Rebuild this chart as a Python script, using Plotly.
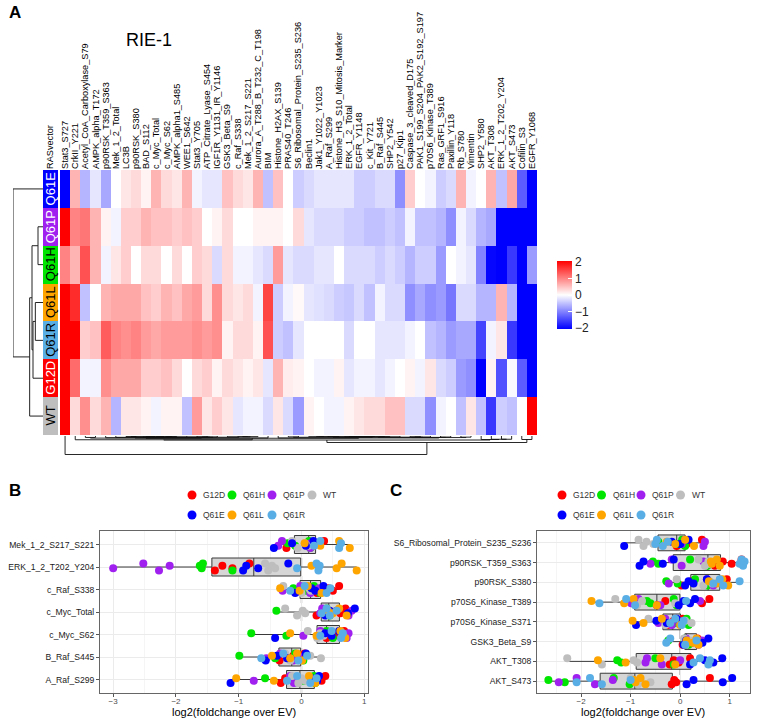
import numpy as np
import plotly.graph_objects as go

W, H = 758, 719
FONT = "Liberation Sans, Arial, sans-serif"
NARROW = "Liberation Sans Narrow, Arial Narrow, Liberation Sans, sans-serif"

# ---------------- data ----------------
ROWS = ["Q61E", "Q61P", "Q61H", "Q61L", "Q61R", "G12D", "WT"]
RAS_COLORS = {"G12D": "#FF0000", "Q61H": "#00E600", "Q61P": "#A020F0", "WT": "#BEBEBE",
              "Q61E": "#0000FF", "Q61L": "#FFA500", "Q61R": "#5AAEE6"}
LABEL_COLORS = {"Q61E": "white", "Q61P": "white", "Q61H": "black", "Q61L": "black",
                "Q61R": "black", "G12D": "white", "WT": "black"}

COLS = ["Stat3_S727", "CrkII_Y221", "Acetyl_CoA_Carboxylase_S79", "AMPK_alpha_T172",
        "p90RSK_T359_S363", "Mek_1_2_Total", "LC3B", "p90RSK_S380", "BAD_S112", "c_Myc_Total",
        "c_Myc_S62", "AMPK_alpha1_S485", "WEE1_S642", "Stat3_Y705", "ATP_Citrate_Lyase_S454",
        "IGF1R_Y1131_IR_Y1146", "GSK3_Beta_S9", "c_Raf_S338", "Mek_1_2_S217_S221",
        "Aurora_A_T288_B_T232_C_T198", "BIM", "Histone_H2AX_S139", "PRAS40_T246",
        "S6_Ribosomal_Protein_S235_S236", "Beclin1", "Jak1_Y1022_Y1023", "A_Raf_S299",
        "Histone_H3_S10_Mitosis_Marker", "ERK_1_2_Total", "EGFR_Y1148", "c_Kit_Y721",
        "B_Raf_S445", "SHP2_Y542", "p27_Kip1", "Caspase_3_cleaved_D175",
        "PAK1_S199_S204_PAK2_S192_S197", "p70S6_Kinase_T389", "Ras_GRF1_S916", "Paxillin_Y118",
        "Rb_S780", "Vimentin", "SHP2_Y580", "AKT_T308", "ERK_1_2_T202_Y204", "AKT_S473",
        "Cofilin_S3", "EGFR_Y1068"]

HM_Q61E = [-2.5, 0.6, -0.6, -0.2, -0.7, 0.0, 0.2, 0.3, 0.1, 0.6, 0.3, 0.2, 0.6, -0.1, -0.2, -0.2, 0.5, 0.3, 0.2,
           0.6, -0.5, 0.5, 0.0, -0.4, -0.3, -0.2, -0.2, -0.2, -0.2, -0.4, -0.4, -0.3, -0.3, -0.9, 0.4, 0.0,
           -0.1, -0.4, -0.3, 0.6, -0.1, 0.0, 0.6, -0.5, 0.7, -1.3, -2.5]
HM_Q61P = [2.2, 1.0, 1.1, 0.6, 0.1, -0.1, 0.4, 0.4, 0.6, 0.5, 0.5, 0.4, 0.5, 0.4, 0.0, 0.1, 0.3, 0.0, 0.0,
           0.1, 0.1, 0.1, 0.0, 0.3, -0.2, -0.3, -0.3, -0.3, -0.4, -0.4, -0.5, -0.5, -0.4, -0.5, -0.1, -0.5,
           -0.5, -0.6, -0.9, -0.1, -0.3, -0.6, -0.7, -2.5, -2.5, -2.5, -2.5]
HM_Q61H = [1.0, 0.6, 1.4, 0.6, -0.1, 0.2, 0.4, 0.0, 0.3, 0.3, 0.0, 0.3, 0.0, 0.4, 0.3, -0.3, 0.3, -0.1, -0.1,
           -0.2, -0.3, 0.8, -0.2, -0.3, -0.3, -0.2, -0.2, 0.0, -0.3, -0.3, -0.3, -0.4, -0.3, -0.4, -0.6, -0.4,
           -0.4, -0.8, 0.0, -0.1, -0.2, -1.0, -2.0, -2.2, -1.6, -2.3, -0.8]
HM_Q61L = [2.5, 1.7, -0.5, 0.0, 0.6, 0.7, 0.7, 0.7, 0.5, 0.4, 0.6, 0.5, 0.7, 0.8, 0.3, 0.9, 0.3, 0.2, 0.3,
           -0.1, 1.5, -0.4, -0.1, 0.05, -0.2, -0.25, -0.3, -0.4, -0.45, -0.3, -0.5, -0.1, -0.3, -0.3, -0.9, -0.7,
           -0.9, -0.8, -1.1, -0.3, -0.3, -0.6, -0.6, 0.6, -0.6, -2.5, -2.5]
HM_Q61R = [2.5, 2.3, 0.4, 0.5, 1.3, 1.0, 0.9, 1.0, 0.8, 0.7, 0.8, 0.8, 0.8, 0.9, 0.8, 0.9, 0.1, 0.3, 0.3,
           0.1, 1.4, -0.4, -0.5, -0.2, 0.0, 0.0, 0.0, 0.0, -0.3, 0.0, 0.0, -0.2, -0.2, -0.2, -0.1, 0.0,
           -0.5, -0.6, -0.8, -0.7, -0.7, -1.5, -0.1, 0.2, -1.6, -2.5, -2.5]
HM_G12D = [2.5, 1.2, -0.1, -0.1, 0.9, 0.7, 0.7, 0.7, 0.4, 0.4, 0.5, 0.3, 0.0, 0.3, 0.4, 0.1, 0.3, 0.2, 0.1,
           0.2, -0.2, 0.6, 0.15, 0.1, 0.0, -0.1, -0.1, 0.1, -0.2, -0.1, -0.1, -0.2, -0.1, 0.0, 0.1, -0.1,
           0.2, -0.3, -0.4, -0.8, -0.9, -2.2, 0.1, -1.4, -0.05, -1.3, -2.5]
HM_WT = [2.5, 0.3, 0.9, 0.3, 0.6, -0.6, 0.2, 0.2, 0.1, -0.1, 0.1, 0.1, -0.5, 0.8, 0.2, 0.4, 0.2, -0.2, -0.1,
         -0.1, -0.3, 0.2, -0.3, -0.8, 0.1, 0.0, -0.1, -0.1, 0.1, 0.2, 0.3, 0.3, 0.5, 0.5, -0.3, -0.3,
         -0.9, -0.1, 0.0, -0.5, 0.2, -0.5, -1.6, -0.4, -0.5, 0.0, 2.5]

# row dendrogram: (left id, right id, height); ids >= 7 are merges
ROW_LINKAGE = [(1, 2, 15), (3, 4, 23), (8, 5, 30), (7, 9, 33), (10, 6, 40), (0, 11, 90)]
# column dendrogram: top joins (heights in px below the heatmap);
# the body (columns 1..44) is clustered from the values and drawn within BODY_MAX
COL_BODY = (1, 45)
BODY_MAX = 4.0
COL_PAIR_H = 3.5       # Cofilin_S3 + EGFR_Y1068
COL_SECOND_H = 6.5     # body + pair
COL_ROOT_H = 18.5      # Stat3_S727 + rest

GROUPS = ["G12D", "Q61H", "Q61P", "WT", "Q61E", "Q61L", "Q61R"]

B_ROWS = ["Mek_1_2_S217_S221", "ERK_1_2_T202_Y204", "c_Raf_S338", "c_Myc_Total",
          "c_Myc_S62", "B_Raf_S445", "A_Raf_S299"]
B_G12D = [[-0.24, 0.10, 0.19, 0.36], [-1.38, -1.26, -1.10, -0.83], [0.25, 0.43, 0.50, 0.60],
          [0.24, 0.56, 0.62, 0.70], [0.40, 0.50, 0.60, 0.68], [-0.35, -0.13, -0.02, 0.05],
          [-0.33, -0.26, 0.32, 0.38]]
B_Q61H = [[-0.22, -0.10, 0.12, 0.14], [-1.62, -1.59, -1.57, -1.10], [-0.13, 0.08, 0.20, 0.30],
          [-0.40, 0.35, 0.40, 0.45], [-0.80, -0.24, 0.40, 0.50], [-0.99, -0.42, -0.10, 0.03],
          [-0.58, 0.03, 0.20, 0.22]]
B_Q61P = [[-0.37, -0.31, 0.14, 0.15], [-3.00, -2.52, -2.27, -2.10], [-0.30, -0.02, 0.14, 0.28],
          [0.30, 0.33, 0.75, 0.80], [0.03, 0.30, 0.72, 0.75], [-0.56, -0.34, -0.13, -0.05],
          [-0.76, -0.18, -0.12, -0.05]]
B_WT = [[-0.15, -0.06, 0.05, 0.11], [-0.58, -0.53, -0.47, -0.42], [-0.29, 0.00, 0.12, 0.15],
        [-0.26, -0.07, 0.02, 0.06], [0.10, 0.25, 0.30, 0.35], [-0.26, -0.18, 0.14, 0.31],
        [-0.15, -0.05, 0.00, 0.06]]
B_Q61E = [[-0.44, -0.15, 0.07, 0.19], [-0.93, -0.88, -0.69, -0.21], [-0.10, 0.16, 0.22, 0.35],
          [0.38, 0.45, 0.74, 0.85], [-0.42, 0.38, 0.48, 0.60], [-0.57, -0.39, -0.23, 0.07],
          [-1.13, 0.16, 0.25, 0.28]]
B_Q61L = [[0.05, 0.30, 0.60, 0.77], [0.16, 0.56, 0.64, 0.88], [-0.34, -0.03, 0.10, 0.32],
          [0.42, 0.50, 0.60, 0.72], [-0.18, 0.24, 0.62, 0.70], [-0.47, -0.18, -0.07, 0.01],
          [-1.04, -0.44, 0.12, 0.22]]
B_Q61R = [[0.20, 0.30, 0.60, 0.63], [-0.07, 0.24, 0.27, 0.29], [-0.18, 0.05, 0.40, 0.46],
          [0.32, 0.40, 0.45, 0.56], [0.30, 0.48, 0.63, 0.66], [-0.64, -0.29, -0.05, 0.09],
          [-0.23, -0.07, 0.14, 0.24]]

C_ROWS = ["S6_Ribosomal_Protein_S235_S236", "p90RSK_T359_S363", "p90RSK_S380", "p70S6_Kinase_T389",
          "p70S6_Kinase_S371", "GSK3_Beta_S9", "AKT_T308", "AKT_S473"]
C_G12D = [[-0.07, 0.06, 0.13, 0.44], [0.70, 0.86, 1.04, 1.24], [0.03, 0.23, 0.90, 0.94],
          [-0.47, -0.30, 0.44, 0.59], [-0.25, -0.13, 0.00, 0.05], [0.05, 0.10, 0.25, 0.35],
          [-0.21, -0.13, -0.03, 0.20], [-0.17, -0.12, -0.08, 0.60]]
C_Q61H = [[-0.44, -0.07, 0.04, 0.10], [-0.55, -0.44, 0.20, 0.55], [-0.28, -0.05, 0.30, 0.55],
          [-0.67, -0.60, -0.13, -0.07], [-0.34, -0.10, 0.13, 0.17], [-0.24, 0.08, 0.10, 0.17],
          [-1.27, -1.19, -0.50, -0.13], [-2.66, -2.33, -1.34, -1.02]]
C_Q61P = [[0.03, 0.10, 0.47, 0.50], [-0.60, -0.17, 0.03, 0.47], [-0.23, 0.54, 0.67, 0.80],
          [-0.99, -0.84, -0.40, 0.40], [-0.44, -0.30, -0.17, -0.03], [0.10, 0.12, 0.37, 0.44],
          [-0.70, -0.67, -0.37, 0.00], [-2.45, -2.09, -1.72, -1.36]]
C_WT = [[-0.84, -0.74, -0.68, -0.54], [0.37, 0.50, 0.57, 0.60], [-0.07, 0.47, 0.60, 0.65],
        [-1.31, -0.87, -0.77, -0.10], [-0.64, -0.30, 0.10, 0.23], [0.08, 0.11, 0.20, 0.30],
        [-2.28, -1.58, -0.94, -0.87], [-1.00, -0.85, -0.80, -0.60]]
C_Q61E = [[-1.13, -0.17, 0.00, 0.17], [-0.82, -0.74, -0.35, -0.13], [0.10, 0.17, 0.27, 0.54],
          [-0.03, 0.07, 0.20, 0.30], [-0.89, -0.48, -0.27, -0.07], [0.07, 0.12, 0.45, 0.57],
          [0.20, 0.50, 0.67, 0.85], [0.13, 0.27, 0.86, 1.05]]
C_Q61L = [[-0.27, -0.10, 0.10, 0.28], [0.62, 0.64, 0.74, 0.80], [0.58, 0.74, 0.85, 0.97],
          [-1.79, -1.13, -0.94, -0.47], [-0.96, -0.74, -0.37, 0.00], [0.13, 0.25, 0.33, 0.37],
          [-1.66, -1.10, -0.40, -0.10], [-0.93, -0.90, -0.80, -0.70]]
C_Q61R = [[-0.50, -0.47, -0.35, -0.25], [1.20, 1.24, 1.27, 1.30], [0.67, 0.80, 0.87, 1.20],
          [-1.63, -1.09, -0.91, 0.12], [-0.20, -0.10, 0.03, 0.07], [-0.28, -0.20, 0.10, 0.33],
          [0.27, 0.40, 0.57, 0.60], [-2.09, -1.82, -1.58, -1.00]]

B_DATA = dict(zip(GROUPS, [B_G12D, B_Q61H, B_Q61P, B_WT, B_Q61E, B_Q61L, B_Q61R]))
C_DATA = dict(zip(GROUPS, [C_G12D, C_Q61H, C_Q61P, C_WT, C_Q61E, C_Q61L, C_Q61R]))
JITTER = [-0.16, 0.06, -0.06, 0.16]


def px(x):
    return x / W


def py(y):
    return 1 - y / H


def dendro_xy(links, n):
    pos = list(range(n))
    hts = [0.0] * n
    a_s, b_s = [], []
    for a, b, h in links:
        a_s += [pos[a], pos[a], pos[b], pos[b], None]
        b_s += [hts[a], h, h, hts[b], None]
        pos.append((pos[a] + pos[b]) / 2)
        hts.append(h)
    return a_s, b_s


def ordered_clustering(vecs):
    # average linkage, only neighbouring clusters may merge (keeps the column order)
    vecs = np.asarray(vecs, dtype=float)
    n = len(vecs)
    dist = np.sqrt(((vecs[:, None, :] - vecs[None, :, :]) ** 2).sum(-1))
    groups = [[i] for i in range(n)]
    ids = list(range(n))
    hts = [0.0] * n
    links = []
    nxt = n
    while len(groups) > 1:
        d = [dist[np.ix_(groups[k], groups[k + 1])].mean() for k in range(len(groups) - 1)]
        k = int(np.argmin(d))
        h = max(d[k], hts[k], hts[k + 1])
        links.append((ids[k], ids[k + 1], h))
        groups[k:k + 2] = [groups[k] + groups[k + 1]]
        ids[k:k + 2] = [nxt]
        hts[k:k + 2] = [h]
        nxt += 1
    return links


fig = go.Figure()

# ---------------- panel A: heatmap ----------------
z = np.array([HM_Q61E, HM_Q61P, HM_Q61H, HM_Q61L, HM_Q61R, HM_G12D, HM_WT])
fig.add_trace(go.Heatmap(
    z=z, x=list(range(len(COLS))), y=list(range(len(ROWS))),
    colorscale=[[0, "#0000FF"], [0.5, "#FFFFFF"], [1, "#FF0000"]], zmin=-2.05, zmax=2.05,
    xaxis="x", yaxis="y", hoverinfo="skip",
    colorbar=dict(x=px(557), xanchor="left", y=py(295), yanchor="middle", lenmode="pixels", len=68,
                  thickness=15, outlinewidth=0, xpad=0, ypad=0,
                  tickvals=[-2, -1, 0, 1, 2], ticktext=["\u22122", "\u22121", "0", "1", "2"],
                  ticks="inside", ticklen=4, tickcolor="white", tickfont=dict(size=12, color="#222"))))

scale = []
for i, r in enumerate(ROWS):
    scale += [[i / len(ROWS), RAS_COLORS[r]], [(i + 1) / len(ROWS), RAS_COLORS[r]]]
fig.add_trace(go.Heatmap(z=[[i] for i in range(len(ROWS))], x=[0], y=list(range(len(ROWS))),
                         colorscale=scale, zmin=-0.5, zmax=len(ROWS) - 0.5, showscale=False,
                         xaxis="x2", yaxis="y2", hoverinfo="skip"))

rx, ry = dendro_xy(ROW_LINKAGE, len(ROWS))
fig.add_trace(go.Scatter(x=ry, y=rx, mode="lines", line=dict(color="#222", width=1),
                         xaxis="x3", yaxis="y3", hoverinfo="skip"))

# column tree: cluster the body columns, then add the top joins
n_cols = len(COLS)
lo, hi = COL_BODY
body = ordered_clustering(z.T[lo:hi])
nb = hi - lo
top_h = max(h for _, _, h in body)


def remap(i):
    return i + lo if i < nb else n_cols + (i - nb)


col_links = [(remap(a), remap(b), h / top_h * BODY_MAX) for a, b, h in body]
body_root = n_cols + len(col_links) - 1
col_links.append((hi, hi + 1, COL_PAIR_H))
col_links.append((body_root, body_root + 1, COL_SECOND_H))
col_links.append((0, body_root + 2, COL_ROOT_H))
cx, cy = dendro_xy(col_links, n_cols)
fig.add_trace(go.Scatter(x=cx, y=cy, mode="lines", line=dict(color="#111", width=0.9),
                         xaxis="x4", yaxis="y4", hoverinfo="skip"))

annotations = []
for i, r in enumerate(ROWS):
    annotations.append(dict(x=0, y=i, xref="x2", yref="y2", text=r, textangle=-90, showarrow=False,
                            font=dict(size=13, color=LABEL_COLORS[r])))


# ---------------- panels B and C ----------------
def add_panel(data, rows, xa, ya):
    n = len(rows)
    posn = [n - i for i in range(n)]
    allv = [sum((data[g][i] for g in GROUPS), []) for i in range(n)]
    q = [np.percentile(v, [0, 25, 50, 75, 100]) for v in allv]
    fig.add_trace(go.Box(y=posn, q1=[s[1] for s in q], median=[s[2] for s in q], q3=[s[3] for s in q],
                         lowerfence=[s[0] for s in q], upperfence=[s[4] for s in q], orientation="h",
                         width=0.8, whiskerwidth=0, fillcolor="#D6D6D6",
                         line=dict(color="#3A3A3A", width=1), xaxis=xa, yaxis=ya, hoverinfo="skip"))
    for k, g in enumerate(GROUPS):
        xs, ys = [], []
        for i in range(n):
            for j, v in enumerate(data[g][i]):
                xs.append(v)
                ys.append(posn[i] + JITTER[(j + k) % 4])
        fig.add_trace(go.Scatter(x=xs, y=ys, mode="markers", xaxis=xa, yaxis=ya, hoverinfo="skip",
                                 marker=dict(size=8, color=RAS_COLORS[g], line=dict(width=0))))


add_panel(B_DATA, B_ROWS, "x5", "y5")
add_panel(C_DATA, C_ROWS, "x6", "y6")

shapes = []
for xa, ya in [("x5", "y5"), ("x6", "y6")]:
    shapes.append(dict(type="line", xref=xa, yref=ya + " domain", x0=0, x1=0, y0=0, y1=1, layer="below",
                       line=dict(color="#9A9A9A", width=1.4, dash="dash")))

# manual two-row legends
for x0, dx in [(192, 40), (562, 39.5)]:
    for k, g in enumerate(GROUPS):
        row, col = (0, k) if k < 4 else (1, k - 4)
        cxp, cyp = x0 + col * dx, 495 + row * 20
        shapes.append(dict(type="circle", xref="paper", yref="paper", xsizemode="pixel",
                           ysizemode="pixel", xanchor=px(cxp), yanchor=py(cyp),
                           x0=-4.5, x1=4.5, y0=-4.5, y1=4.5, fillcolor=RAS_COLORS[g], line=dict(width=0)))
        annotations.append(dict(x=px(cxp + 9), y=py(cyp), xref="paper", yref="paper", text=g,
                                xanchor="left", yanchor="middle", showarrow=False,
                                font=dict(size=8.5, color="#333", family=NARROW)))

for txt, x, y, size, bold, fam in [("A", 15, 13, 17, True, FONT), ("B", 15, 490, 17, True, FONT),
                                   ("C", 396, 490, 17, True, FONT), ("RIE-1", 149, 40, 18, False, FONT),
                                   ("log2(foldchange over EV)", 234, 712, 11, False, NARROW),
                                   ("log2(foldchange over EV)", 643, 712, 11, False, NARROW)]:
    annotations.append(dict(x=px(x), y=py(y), xref="paper", yref="paper", showarrow=False,
                            text="<b>%s</b>" % txt if bold else txt, xanchor="center", yanchor="middle",
                            font=dict(size=size, color="black", family=fam)))

hidden = dict(visible=False, showgrid=False, zeroline=False)
hm_y = [py(435), py(170)]


def panel_x(domain, rng, anchor):
    return dict(domain=domain, range=rng, anchor=anchor, tickmode="linear", tick0=0, dtick=1,
                ticks="outside", ticklen=3, tickcolor="#555", ticklabelstandoff=-3,
                tickfont=dict(size=8, color="#4D4D4D", family=NARROW),
                showgrid=True, gridcolor="#EBEBEB", gridwidth=0.8,
                minor=dict(dtick=0.5, showgrid=True, gridcolor="#F5F5F5", gridwidth=0.6),
                showline=True, mirror=True, linecolor="#666", linewidth=1, zeroline=False)


def panel_y(rows, anchor):
    n = len(rows)
    return dict(domain=[py(693), py(531)], range=[0.4, n + 0.6], anchor=anchor,
                tickvals=[n - i for i in range(n)], ticktext=rows, ticks="outside", ticklen=3,
                tickcolor="#555", tickfont=dict(size=8.6, color="#1A1A1A", family=NARROW), showgrid=True,
                gridcolor="#EBEBEB", gridwidth=0.8, showline=True, mirror=True, linecolor="#666",
                linewidth=1, zeroline=False)


fig.update_layout(
    width=W, height=H, margin=dict(l=0, r=0, t=0, b=0), paper_bgcolor="white", plot_bgcolor="white",
    font=dict(family=FONT, color="black"), showlegend=False,
    xaxis=dict(domain=[px(60), px(537)], range=[-0.5, n_cols - 0.5], anchor="y", side="top",
               tickmode="array", tickvals=list(range(n_cols)), ticktext=COLS, tickangle=-90,
               tickfont=dict(size=9.2, color="black"), ticks="", showgrid=False, zeroline=False),
    yaxis=dict(domain=hm_y, range=[len(ROWS) - 0.5, -0.5], anchor="x", **hidden),
    xaxis2=dict(domain=[px(43), px(58)], range=[-0.5, 0.5], anchor="y2", side="top", tickmode="array",
                tickvals=[0], ticktext=["RASvector"], tickangle=-90, tickfont=dict(size=9.2, color="black"),
                ticks="", showgrid=False, zeroline=False),
    yaxis2=dict(domain=hm_y, range=[len(ROWS) - 0.5, -0.5], anchor="x2", **hidden),
    xaxis3=dict(domain=[px(13), px(43)], range=[90, 0], anchor="y3", **hidden),
    yaxis3=dict(domain=hm_y, range=[len(ROWS) - 0.5, -0.5], anchor="x3", **hidden),
    xaxis4=dict(domain=[px(60), px(537)], range=[-0.5, n_cols - 0.5], anchor="y4", **hidden),
    yaxis4=dict(domain=[py(458), py(436)], range=[22, 0], anchor="x4", **hidden),
    xaxis5=panel_x([px(100), px(368)], [-3.21, 1.06], "y5"),
    yaxis5=panel_y(B_ROWS, "x5"),
    xaxis6=panel_x([px(537), px(750)], [-2.89, 1.41], "y6"),
    yaxis6=panel_y(C_ROWS, "x6"),
    shapes=shapes, annotations=annotations,
)

# the default page body has an 8px margin; remove it so the figure fills the window
fig.write_html("out.html", config={"displayModeBar": False},
               post_script="document.body.style.margin='0px';")
